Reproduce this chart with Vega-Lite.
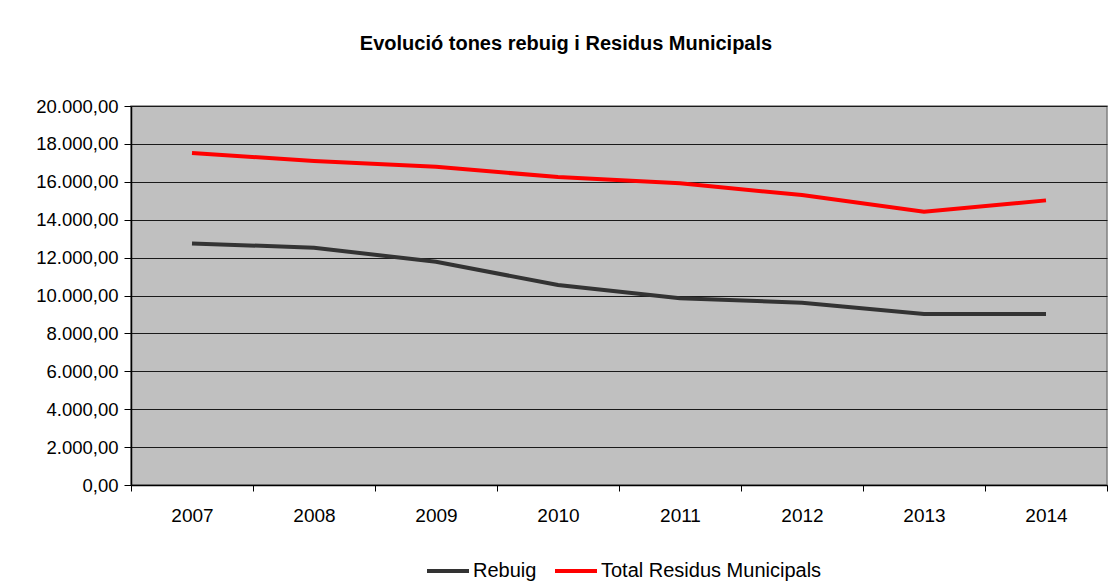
{
  "$schema": "https://vega.github.io/schema/vega-lite/v6.json",
  "width": 976,
  "height": 379,
  "autosize": {"type": "none"},
  "padding": {"left": 131, "top": 106, "right": 7, "bottom": 96},
  "background": "white",
  "config": {
    "locale": {"number": {"decimal": ",", "thousands": ".", "grouping": [3], "currency": ["", " €"]}},
    "font": "Liberation Sans",
    "view": {"fill": "#C0C0C0", "stroke": "#808080", "strokeWidth": 1.5}
  },
  "title": {
    "text": "Evolució tones rebuig i Residus Municipals",
    "font": "Liberation Sans",
    "fontSize": 20,
    "fontWeight": "bold",
    "color": "#000000",
    "anchor": "middle",
    "dx": -53,
    "offset": 43
  },
  "data": {
    "values": [
      {"year": "2007", "series": "Rebuig", "value": 12750},
      {"year": "2008", "series": "Rebuig", "value": 12520},
      {"year": "2009", "series": "Rebuig", "value": 11780},
      {"year": "2010", "series": "Rebuig", "value": 10550},
      {"year": "2011", "series": "Rebuig", "value": 9850},
      {"year": "2012", "series": "Rebuig", "value": 9620},
      {"year": "2013", "series": "Rebuig", "value": 9020},
      {"year": "2014", "series": "Rebuig", "value": 9020},
      {"year": "2007", "series": "Total Residus Municipals", "value": 17520},
      {"year": "2008", "series": "Total Residus Municipals", "value": 17100},
      {"year": "2009", "series": "Total Residus Municipals", "value": 16790},
      {"year": "2010", "series": "Total Residus Municipals", "value": 16250},
      {"year": "2011", "series": "Total Residus Municipals", "value": 15920},
      {"year": "2012", "series": "Total Residus Municipals", "value": 15300},
      {"year": "2013", "series": "Total Residus Municipals", "value": 14420},
      {"year": "2014", "series": "Total Residus Municipals", "value": 15020}
    ]
  },
  "mark": {"type": "line", "strokeWidth": 4},
  "encoding": {
    "x": {
      "field": "year",
      "type": "ordinal",
      "scale": {"type": "band", "paddingInner": 0, "paddingOuter": 0},
      "axis": {
        "title": null,
        "labelAngle": 0,
        "labelFontSize": 19,
        "labelColor": "#000000",
        "tickBand": "extent",
        "tickSize": 6,
        "tickColor": "#000000",
        "domainColor": "#000000",
        "domainWidth": 1.5,
        "labelPadding": 15,
        "grid": false
      }
    },
    "y": {
      "field": "value",
      "type": "quantitative",
      "scale": {"domain": [0, 20000], "nice": false},
      "axis": {
        "title": null,
        "values": [0, 2000, 4000, 6000, 8000, 10000, 12000, 14000, 16000, 18000, 20000],
        "format": ",.2f",
        "labelFontSize": 18.5,
        "labelColor": "#000000",
        "tickSize": 7,
        "tickColor": "#000000",
        "domainColor": "#000000",
        "domainWidth": 1.5,
        "labelPadding": 6,
        "grid": true,
        "gridColor": "#1a1a1a",
        "gridWidth": 1
      }
    },
    "color": {
      "field": "series",
      "type": "nominal",
      "scale": {"domain": ["Rebuig", "Total Residus Municipals"], "range": ["#333333", "#FF0000"]},
      "legend": {
        "title": null,
        "orient": "none",
        "direction": "horizontal",
        "legendX": 294,
        "legendY": 442,
        "symbolType": "stroke",
        "symbolSize": 1764,
        "symbolStrokeWidth": 4,
        "labelFontSize": 20,
        "labelColor": "#000000",
        "labelOffset": 2,
        "labelLimit": 400,
        "columnPadding": 10
      }
    }
  }
}
